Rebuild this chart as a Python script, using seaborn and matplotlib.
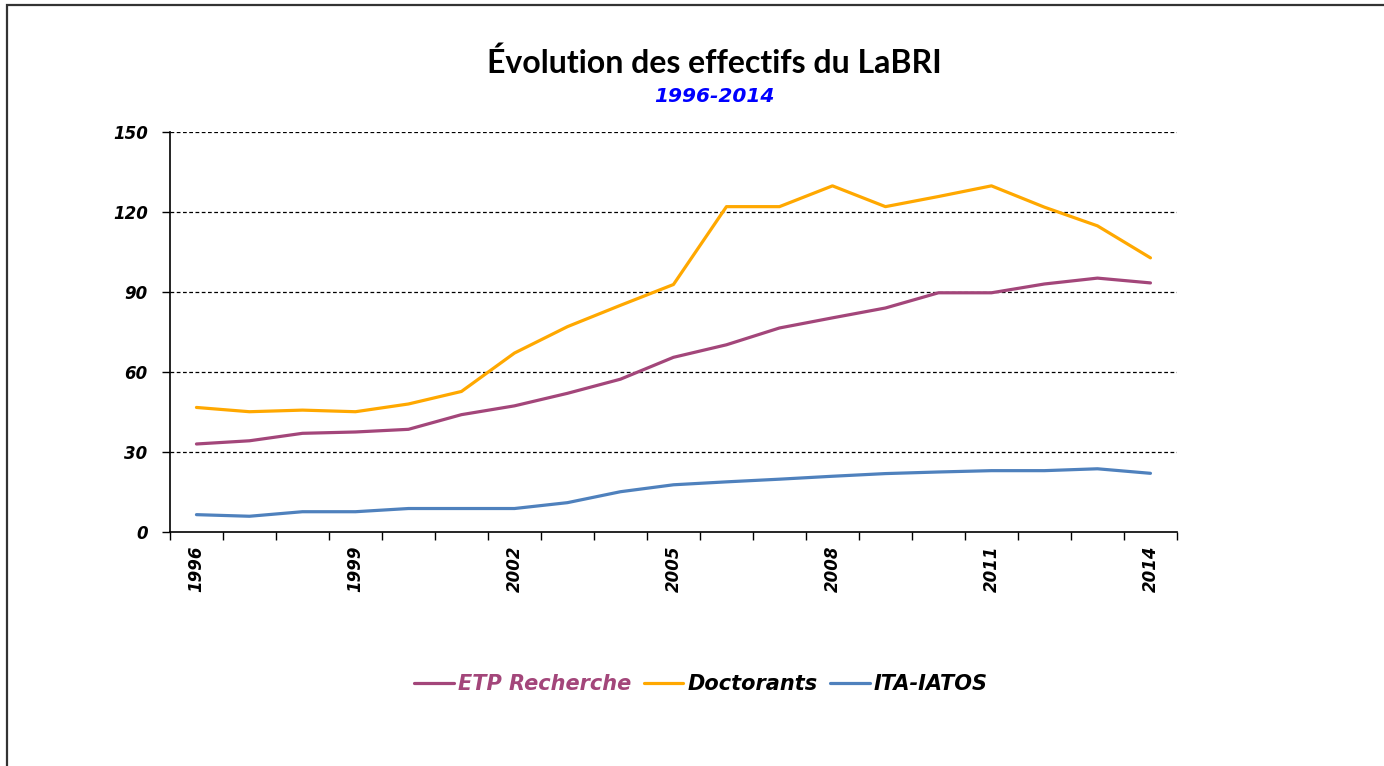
import numpy as np
import pandas as pd
import seaborn as sns
from matplotlib import pyplot as plt
from matplotlib.patches import Rectangle

years = list(range(1996, 2015))
etp_recherche = [33, 34.2, 37, 37.5, 38.5, 44, 47.3, 52, 57.3, 65.5,
                 70.2, 76.5, 80.3, 84, 89.7, 89.7, 93, 95.2, 93.4]
doctorants = [46.7, 45.1, 45.7, 45.1, 48, 52.7, 67.1, 77, 85, 92.8,
              122, 122, 129.8, 122, 125.8, 129.8, 121.8, 114.8, 102.8]
ita_iatos = [6.5, 5.9, 7.6, 7.6, 8.8, 8.8, 8.8, 11, 15.1, 17.7,
             18.8, 19.8, 20.9, 21.9, 22.5, 23, 23, 23.7, 22]
series_names = ['ETP Recherche', 'Doctorants', 'ITA-IATOS']
colors = {'ETP Recherche': '#A3467A', 'Doctorants': '#FFA800', 'ITA-IATOS': '#4F81BD'}
y_ticks = [0, 30, 60, 90, 120, 150]
label_years = [1996, 1999, 2002, 2005, 2008, 2011, 2014]

df = pd.DataFrame({
    'year': years * 3,
    'value': etp_recherche + doctorants + ita_iatos,
    'series': np.repeat(series_names, len(years)),
})

sns.set_style('white')
plt.rcParams['font.family'] = ['DejaVu Sans']
plt.rcParams['text.color'] = 'black'
plt.rcParams['xtick.color'] = 'black'
plt.rcParams['ytick.color'] = 'black'

fig = plt.figure(figsize=(13.84, 7.66), dpi=100)
ax = fig.add_axes([0.1228, 0.3055, 0.7276, 0.5222])

sns.lineplot(data=df, x='year', y='value', hue='series', hue_order=series_names,
             palette=colors, linewidth=2.3, ax=ax)

ax.set_xlim(1995.5, 2014.5)
ax.set_ylim(0, 150)
ax.set_yticks(y_ticks)
ax.set_yticklabels([str(v) for v in y_ticks], fontsize=12, fontweight='bold', fontstyle='italic')
for v in y_ticks[1:]:
    ax.axhline(v, color='black', linestyle=(0, (3, 2)), linewidth=0.9, zorder=0)

# category axis: ticks between years, labels on the years
ax.set_xticks(np.arange(1995.5, 2015.5, 1))
ax.set_xticklabels([])
ax.set_xticks(label_years, minor=True)
ax.set_xticklabels([str(y) for y in label_years], minor=True, rotation=90,
                   fontsize=12, fontweight='bold', fontstyle='italic', va='top')
ax.tick_params(axis='x', which='major', direction='out', length=6, width=1, color='black', bottom=True)
ax.tick_params(axis='x', which='minor', length=0, pad=10)
ax.tick_params(axis='y', direction='out', length=6, width=1, color='black', left=True, pad=10)

for side in ['top', 'right']:
    ax.spines[side].set_visible(False)
for side in ['left', 'bottom']:
    ax.spines[side].set_color('black')
    ax.spines[side].set_linewidth(1.2)
ax.set_xlabel('')
ax.set_ylabel('')

handles, labels = ax.get_legend_handles_labels()
ax.get_legend().remove()
leg = fig.legend(handles, labels, loc='center', bbox_to_anchor=(701 / 1384, 1 - 684 / 766),
                 ncol=3, frameon=False, handlelength=1.9, handletextpad=0.2, columnspacing=0.6,
                 prop={'size': 15, 'weight': 'bold', 'style': 'italic'})
leg.get_texts()[0].set_color(colors['ETP Recherche'])

fig.text(714 / 1384, 1 - 63 / 766, 'Évolution des effectifs du LaBRI', ha='center', va='center',
         fontsize=23, fontweight='bold', family=['Lato', 'DejaVu Sans'])
fig.text(714 / 1384, 1 - 96 / 766, '1996-2014', ha='center', va='center', color='#0000FF',
         fontsize=14.5, fontweight='bold', fontstyle='italic')

fig.patches.append(Rectangle((7 / 1384, -0.05), 1.1, 1 - 5 / 766 + 0.05, transform=fig.transFigure,
                             fill=False, edgecolor='#333333', linewidth=1.6))

fig.savefig('out.png', dpi=100)
